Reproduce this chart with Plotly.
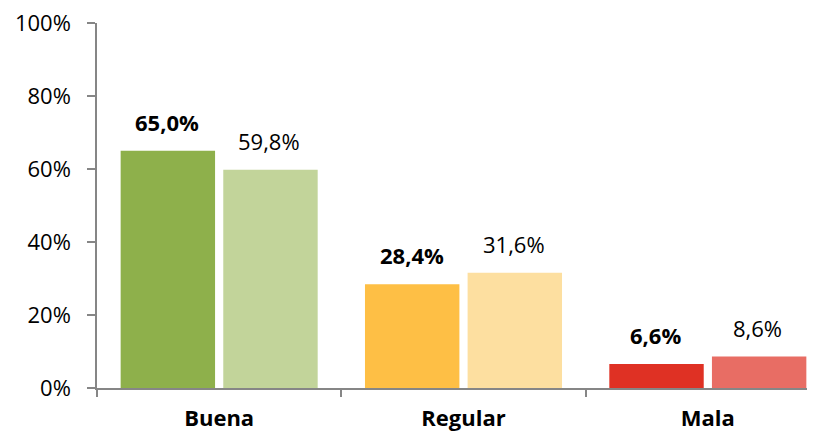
import plotly.graph_objects as go

# data
categorias = ["Buena", "Regular", "Mala"]
serie_a = [65.0, 28.4, 6.6]
serie_b = [59.8, 31.6, 8.6]
colores_a = ["#8EB04B", "#FEBF45", "#DF3124"]
colores_b = ["#C2D49A", "#FDDFA0", "#E86D64"]
ticks_y = [0, 20, 40, 60, 80, 100]

FONT = "Open Sans"
FS = 22


def etiqueta(v):
    return f"{v:.1f}%".replace(".", ",")


fig = go.Figure()
fig.add_trace(go.Bar(x=categorias, y=serie_a, marker=dict(color=colores_a, line_width=0),
                     showlegend=False, hoverinfo="skip"))
fig.add_trace(go.Bar(x=categorias, y=serie_b, marker=dict(color=colores_b, line_width=0),
                     showlegend=False, hoverinfo="skip"))

# value labels above the bars
for c, a, b in zip(categorias, serie_a, serie_b):
    fig.add_annotation(x=c, y=a, text=f"<b>{etiqueta(a)}</b>", showarrow=False,
                       xshift=-52, yshift=12, yanchor="bottom",
                       font=dict(family=FONT, size=FS, color="black"))
    fig.add_annotation(x=c, y=b, text=etiqueta(b), showarrow=False,
                       xshift=50, yshift=12, yanchor="bottom",
                       font=dict(family=FONT, size=FS, color="black"))

# page body adds 8px, so the figure is a bit wider and the right end falls off-screen
fig.update_layout(
    width=822, height=433,
    margin=dict(l=89, r=0, t=15, b=53),
    paper_bgcolor="white", plot_bgcolor="white",
    barmode="group", bargap=0.16, bargroupgap=0.08,
    font=dict(family=FONT, size=FS, color="black"),
)
fig.update_xaxes(
    range=[-0.5, 2.5], showline=True, linecolor="#868686", linewidth=1.5,
    ticks="outside", tickson="boundaries", ticklen=7, tickcolor="#868686", tickwidth=1.5,
    tickfont=dict(family=FONT, size=FS, color="black", weight="bold"),
    ticklabelstandoff=10, ticklabeloverflow="allow",
    showgrid=False, zeroline=False, automargin=False,
)
fig.update_yaxes(
    range=[0, 100], tickvals=ticks_y, ticktext=[f"{t}%" for t in ticks_y],
    showline=True, linecolor="#868686", linewidth=1.5,
    ticks="outside", ticklen=8, tickcolor="#868686", tickwidth=1.5,
    ticklabelstandoff=12, ticklabeloverflow="allow",
    showgrid=False, zeroline=False, automargin=False,
)

fig.write_html("out.html")
